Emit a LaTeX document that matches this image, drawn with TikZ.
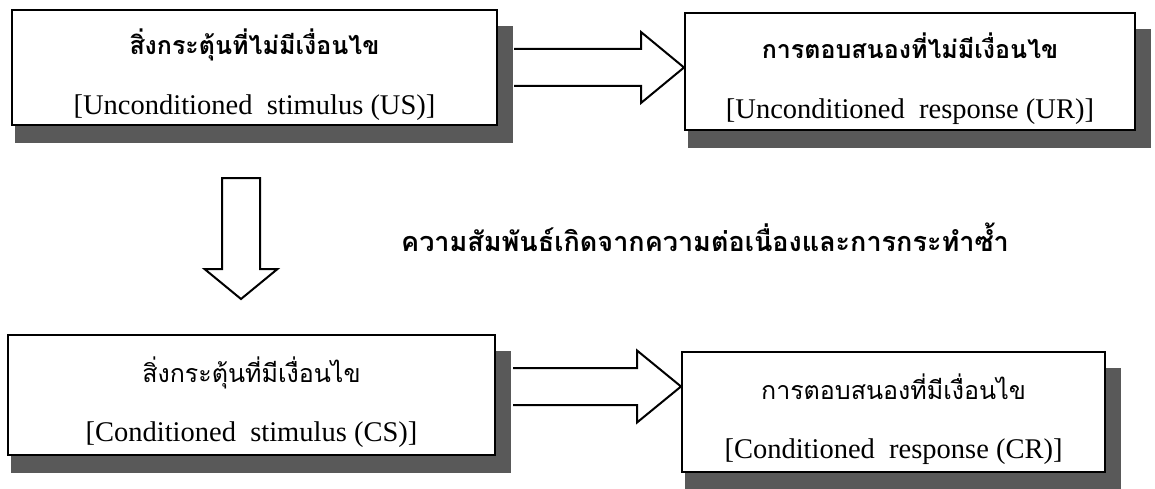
\documentclass[tikz,border=0pt]{standalone}
\usepackage{fontspec}
\setmainfont{Liberation Serif}
\newfontfamily\thaifont[Script=Thai]{Loma}
\usetikzlibrary{calc,positioning,backgrounds}
\tikzstyle{stimBox} = [rectangle, draw=black, fill=white, line width=2pt, inner sep=0pt, text centered]
\tikzstyle{boxShadow} = [fill=black!65]
\tikzstyle{blockArrow} = [draw=black, fill=white, line width=2pt, line join=miter]

\begin{document}
\begin{tikzpicture}[x=1pt, y=1pt]
\useasboundingbox (0,0) rectangle (1155,-489);
% the four boxes
\node (US) [stimBox, minimum width=485pt, minimum height=115pt] at (254.5,-67.5) {\raisebox{-7pt}[\height][\depth]{\begin{tabular}{@{}c@{}}
    {\thaifont\bfseries\fontsize{25}{28}\selectfont สิ่งกระตุ้นที่ไม่มีเงื่อนไข}\\[36pt]
    {\fontsize{28.5}{34}\selectfont [Unconditioned\ \ stimulus (US)]}
  \end{tabular}}};
\node (UR) [stimBox, minimum width=450pt, minimum height=117pt] at (910,-71.5) {\raisebox{-7pt}[\height][\depth]{\begin{tabular}{@{}c@{}}
    {\thaifont\bfseries\fontsize{25}{28}\selectfont การตอบสนองที่ไม่มีเงื่อนไข}\\[36pt]
    {\fontsize{28.5}{34}\selectfont [Unconditioned\ \ response (UR)]}
  \end{tabular}}};
\node (CS) [stimBox, minimum width=487pt, minimum height=120pt] at (251.5,-395) {\raisebox{-7pt}[\height][\depth]{\begin{tabular}{@{}c@{}}
    {\thaifont\fontsize{25}{28}\selectfont สิ่งกระตุ้นที่มีเงื่อนไข}\\[36pt]
    {\fontsize{28.5}{34}\selectfont [Conditioned\ \ stimulus (CS)]}
  \end{tabular}}};
\node (CR) [stimBox, minimum width=423pt, minimum height=120pt] at (893.5,-412) {\raisebox{-7pt}[\height][\depth]{\begin{tabular}{@{}c@{}}
    {\thaifont\fontsize{25}{28}\selectfont การตอบสนองที่มีเงื่อนไข}\\[36pt]
    {\fontsize{28.5}{34}\selectfont [Conditioned\ \ response (CR)]}
  \end{tabular}}};
\node (link) at (705,-237) {\thaifont\bfseries\fontsize{27}{30}\selectfont ความสัมพันธ์เกิดจากความต่อเนื่องและการกระทำซ้ำ};

% shadows behind the boxes
\begin{scope}[on background layer]
  \foreach \b in {US, UR, CS, CR}
    \fill [boxShadow] ([xshift=4pt, yshift=-17pt]\b.north west) rectangle ([xshift=15pt, yshift=-17pt]\b.south east);
\end{scope}

% block arrows
\coordinate (a1s) at ([xshift=16pt]US.east);
\coordinate (a1t) at (UR.west |- a1s);
\draw [blockArrow] ($(a1s)+(0,18.5)$) -- ($(a1t)+(-43,18.5)$) -- ($(a1t)+(-43,35.5)$) -- (a1t)
  -- ($(a1t)+(-43,-35.5)$) -- ($(a1t)+(-43,-18.5)$) -- ($(a1s)+(0,-18.5)$);
\coordinate (a2s) at ([xshift=17pt, yshift=8.5pt]CS.east);
\coordinate (a2t) at (CR.west |- a2s);
\draw [blockArrow] ($(a2s)+(0,18.5)$) -- ($(a2t)+(-44,18.5)$) -- ($(a2t)+(-44,36)$) -- (a2t)
  -- ($(a2t)+(-44,-36)$) -- ($(a2t)+(-44,-18.5)$) -- ($(a2s)+(0,-18.5)$);
\coordinate (a3s) at ([xshift=-13.5pt, yshift=-52pt]US.south);
\coordinate (a3t) at ($(a3s)+(0,-121)$);
\draw [blockArrow] ($(a3s)+(-19,0)$) -- ($(a3s)+(19,0)$) -- ($(a3t)+(19,30)$) -- ($(a3t)+(36.5,30)$) -- (a3t)
  -- ($(a3t)+(-36.5,30)$) -- ($(a3t)+(-19,30)$) -- cycle;
\end{tikzpicture}
\end{document}
